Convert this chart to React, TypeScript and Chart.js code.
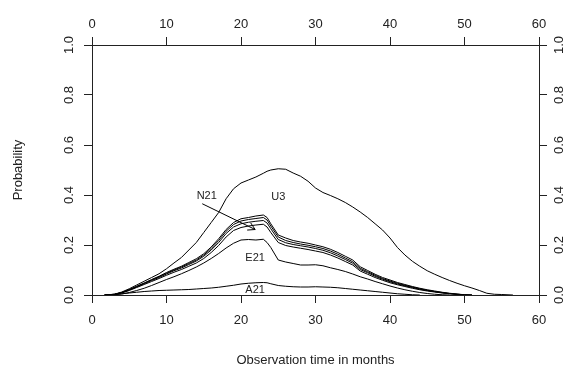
import React, { useEffect, useRef } from 'react';
import { Chart, registerables } from 'chart.js';
Chart.register(...registerables);

// Observation time (months) grid shared by all curves
const months = [1.7, 3, 4, 5, 6, 7, 8, 9, 10, 11, 12, 13, 14, 15, 16, 17, 18, 19, 20, 21, 22, 23, 23.5,
  24, 25, 26, 27, 28, 29, 30, 31, 32, 33, 34, 35, 36, 37, 38, 39, 40, 41, 42, 43, 44, 45, 46, 47, 48, 49,
  50, 51, 52, 53, 54, 55, 56.5];

const U3 = [0, 0.003, 0.012, 0.025, 0.04, 0.055, 0.07, 0.085, 0.105, 0.128, 0.15, 0.18, 0.21, 0.25, 0.29, 0.33,
  0.385, 0.425, 0.448, 0.46, 0.472, 0.487, 0.495,
  0.5, 0.505, 0.503, 0.488, 0.475, 0.455, 0.428, 0.41, 0.398, 0.385, 0.37, 0.352, 0.332, 0.31, 0.285, 0.26,
  0.228, 0.19, 0.16, 0.135, 0.115, 0.097, 0.083, 0.07, 0.058, 0.047, 0.037, 0.028, 0.018, 0.007, 0.003, 0.002, 0];

const B1 = [0, 0.003, 0.01, 0.022, 0.035, 0.048, 0.062, 0.075, 0.09, 0.103, 0.115, 0.13, 0.145, 0.165, 0.192,
  0.225, 0.262, 0.29, 0.305, 0.31, 0.316, 0.32, 0.31,
  0.285, 0.24, 0.228, 0.218, 0.212, 0.207, 0.2, 0.193, 0.183, 0.17, 0.155, 0.14, 0.113, 0.098, 0.083, 0.07,
  0.06, 0.05, 0.042, 0.034, 0.027, 0.021, 0.016, 0.011, 0.007, 0.004, 0.001, 0];

const B2 = [0, 0.003, 0.01, 0.021, 0.034, 0.047, 0.06, 0.073, 0.087, 0.1, 0.112, 0.126, 0.14, 0.16, 0.186,
  0.218, 0.255, 0.282, 0.296, 0.302, 0.306, 0.31, 0.3,
  0.276, 0.232, 0.218, 0.21, 0.204, 0.199, 0.193, 0.186, 0.176, 0.163, 0.148, 0.133, 0.107, 0.093, 0.079,
  0.066, 0.056, 0.047, 0.039, 0.032, 0.025, 0.019, 0.014, 0.01, 0.006, 0.003, 0.001, 0];

const N21 = [0, 0.002, 0.009, 0.02, 0.032, 0.045, 0.058, 0.07, 0.084, 0.097, 0.108, 0.122, 0.136, 0.155, 0.18,
  0.21, 0.246, 0.272, 0.285, 0.291, 0.295, 0.298, 0.288,
  0.265, 0.222, 0.209, 0.202, 0.197, 0.192, 0.186, 0.179, 0.169, 0.156, 0.142, 0.127, 0.102, 0.089, 0.075,
  0.063, 0.053, 0.044, 0.037, 0.03, 0.023, 0.018, 0.013, 0.009, 0.005, 0.003, 0.001, 0];

const B4 = [0, 0.002, 0.008, 0.018, 0.03, 0.042, 0.054, 0.066, 0.079, 0.091, 0.102, 0.115, 0.128, 0.146, 0.17,
  0.198, 0.232, 0.258, 0.27, 0.276, 0.28, 0.283, 0.272,
  0.25, 0.21, 0.198, 0.192, 0.187, 0.182, 0.176, 0.17, 0.16, 0.148, 0.134, 0.12, 0.096, 0.083, 0.07, 0.059,
  0.049, 0.041, 0.034, 0.027, 0.021, 0.016, 0.012, 0.008, 0.005, 0.002, 0];

const E21 = [0, 0.001, 0.004, 0.01, 0.018, 0.027, 0.038, 0.05, 0.062, 0.073, 0.085, 0.098, 0.112, 0.128, 0.146,
  0.166, 0.188, 0.207, 0.22, 0.222, 0.22, 0.223, 0.21,
  0.19, 0.14, 0.132, 0.126, 0.12, 0.12, 0.121, 0.117, 0.109, 0.102, 0.094, 0.084, 0.073, 0.064, 0.054, 0.045,
  0.036, 0.028, 0.021, 0.015, 0.01, 0.006, 0.003, 0.001, 0];

const A21 = [0, 0.002, 0.005, 0.008, 0.011, 0.014, 0.016, 0.018, 0.019, 0.02, 0.021, 0.022, 0.024, 0.026, 0.028,
  0.031, 0.035, 0.039, 0.044, 0.047, 0.049, 0.05, 0.049,
  0.045, 0.038, 0.035, 0.033, 0.032, 0.032, 0.033, 0.032, 0.031, 0.029, 0.026, 0.023, 0.02, 0.017, 0.014,
  0.011, 0.008, 0.005, 0.003, 0.001, 0];

const xTicks = [0, 10, 20, 30, 40, 50, 60];
const yTicks = [0, 0.2, 0.4, 0.6, 0.8, 1.0];

const labelTexts = ['N21', 'U3', 'E21', 'A21'];
const labelX = [15.4, 25.0, 21.9, 21.9];
const labelY = [0.396, 0.392, 0.148, 0.02];
const arrowFrom = [14.8, 0.365];
const arrowTo = [21.9, 0.262];

const FONT = '"Liberation Sans", Arial, sans-serif';
const INK = '#222';

export default function App() {
  const ref = useRef<HTMLCanvasElement>(null);
  useEffect(() => {
    if (!ref.current) return;
    const mk = (vals: number[]) => vals.map((v, i) => ({ x: months[i], y: v }));
    const ds = (label: string, vals: number[]) => ({
      label, data: mk(vals), borderColor: '#000', borderWidth: 1, pointRadius: 0, fill: false, tension: 0,
    });
    const annot = {
      id: 'annot',
      afterDatasetsDraw(chart: any) {
        const { ctx, scales } = chart;
        const x = scales.x, y = scales.y;
        ctx.save();
        ctx.font = `11px ${FONT}`;
        ctx.fillStyle = INK;
        ctx.textAlign = 'center';
        ctx.textBaseline = 'middle';
        labelTexts.forEach((t, i) => ctx.fillText(t, x.getPixelForValue(labelX[i]), y.getPixelForValue(labelY[i])));
        const x0 = x.getPixelForValue(arrowFrom[0]), y0 = y.getPixelForValue(arrowFrom[1]);
        const x1 = x.getPixelForValue(arrowTo[0]), y1 = y.getPixelForValue(arrowTo[1]);
        ctx.strokeStyle = '#000';
        ctx.lineWidth = 1;
        ctx.beginPath();
        ctx.moveTo(x0, y0);
        ctx.lineTo(x1, y1);
        const ang = Math.atan2(y1 - y0, x1 - x0);
        const L = 8;
        ctx.moveTo(x1, y1);
        ctx.lineTo(x1 - L * Math.cos(ang - Math.PI / 6), y1 - L * Math.sin(ang - Math.PI / 6));
        ctx.moveTo(x1, y1);
        ctx.lineTo(x1 - L * Math.cos(ang + Math.PI / 6), y1 - L * Math.sin(ang + Math.PI / 6));
        ctx.stroke();
        ctx.restore();
      },
    };
    const font = { family: FONT, size: 13 };
    const grid = { drawOnChartArea: false, drawTicks: true, tickLength: 8, color: INK };
    const border = { display: true, color: INK, width: 1 };
    const xTickOpts = (pad: number) => ({
      color: INK, font, padding: pad, autoSkip: false, maxRotation: 0, minRotation: 0,
    });
    const yTickOpts = (pad: number) => ({
      color: INK, font, padding: pad, minRotation: 90, maxRotation: 90, crossAlign: 'center' as const,
      callback: (v: any) => Number(v).toFixed(1),
    });
    const chart = new Chart(ref.current, {
      type: 'line',
      data: {
        datasets: [ds('U3', U3), ds('B1', B1), ds('B2', B2), ds('N21', N21), ds('B4', B4), ds('E21', E21), ds('A21', A21)],
      },
      options: {
        animation: false,
        responsive: false,
        layout: { padding: 0 },
        plugins: { legend: { display: false }, tooltip: { enabled: false } },
        scales: {
          x: {
            type: 'linear', position: 'bottom', min: 0, max: 60,
            afterBuildTicks: (s: any) => { s.ticks = xTicks.map((v) => ({ value: v })); },
            ticks: xTickOpts(10), grid, border,
            title: { display: true, text: 'Observation time in months', color: INK, font, padding: { top: 0, bottom: 1 } },
            afterFit: (s: any) => { s.height = 74; },
          },
          x2: {
            type: 'linear', axis: 'x', position: 'top', min: 0, max: 60,
            afterBuildTicks: (s: any) => { s.ticks = xTicks.map((v) => ({ value: v })); },
            ticks: xTickOpts(5), grid, border,
            afterFit: (s: any) => { s.height = 45; },
          },
          y: {
            type: 'linear', position: 'left', min: 0, max: 1,
            afterBuildTicks: (s: any) => { s.ticks = yTicks.map((v) => ({ value: v })); },
            ticks: yTickOpts(6), grid, border,
            title: { display: true, text: 'Probability', color: INK, font, padding: { top: 11, bottom: 0 } },
            afterFit: (s: any) => { s.width = 92; },
          },
          y2: {
            type: 'linear', axis: 'y', position: 'right', min: 0, max: 1,
            afterBuildTicks: (s: any) => { s.ticks = yTicks.map((v) => ({ value: v })); },
            ticks: yTickOpts(3), grid, border,
            afterFit: (s: any) => { s.width = 30; },
          },
        },
      } as any,
      plugins: [annot],
    });
    return () => chart.destroy();
  }, []);
  return (
    <div style={{ position: 'fixed', left: 0, top: 0, width: 569, height: 369, background: '#fff' }}>
      <canvas ref={ref} width={569} height={369} style={{ display: 'block' }} />
    </div>
  );
}
